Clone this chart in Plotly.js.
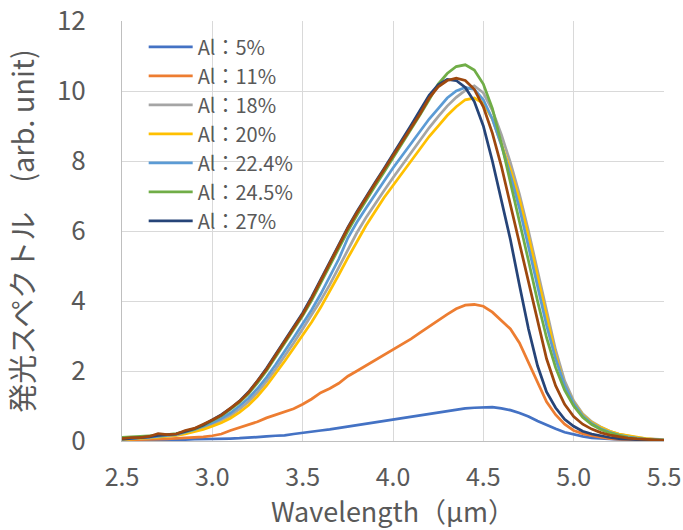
<!DOCTYPE html>
<html>
<head>
<meta charset="utf-8">
<script src="https://cdn.plot.ly/plotly-3.0.1.min.js"></script>
<style>html,body{margin:0;padding:0;background:#fff;}#chart{width:683px;height:530px;}</style>
</head>
<body>
<div id="chart"></div>
<script>
// Wavelength (µm), shared by all series: 2.50 .. 5.50 in 0.05 steps
const wavelength = [2.50,2.55,2.60,2.65,2.70,2.75,2.80,2.85,2.90,2.95,
  3.00,3.05,3.10,3.15,3.20,3.25,3.30,3.35,3.40,3.45,
  3.50,3.55,3.60,3.65,3.70,3.75,3.80,3.85,3.90,3.95,
  4.00,4.05,4.10,4.15,4.20,4.25,4.30,4.35,4.40,4.45,
  4.50,4.55,4.60,4.65,4.70,4.75,4.80,4.85,4.90,4.95,
  5.00,5.05,5.10,5.15,5.20,5.25,5.30,5.35,5.40,5.45,5.50];

const seriesNames = ["Al：5%","Al：11%","Al：18%","Al：20%","Al：22.4%","Al：24.5%","Al：27%",""];
const yTickVals = [0, 2, 4, 6, 8, 10, 12];
const xTickVals = [2.5, 3.0, 3.5, 4.0, 4.5, 5.0, 5.5];

const al05 = [0.02,0.02,0.02,0.02,0.03,0.03,0.04,0.04,0.05,0.05,
  0.06,0.06,0.07,0.08,0.09,0.10,0.13,0.15,0.16,0.20,
  0.24,0.27,0.30,0.33,0.37,0.42,0.45,0.48,0.52,0.57,
  0.60,0.64,0.68,0.74,0.78,0.82,0.86,0.90,0.93,0.95,
  0.97,0.97,0.93,0.88,0.80,0.70,0.57,0.45,0.35,0.25,
  0.18,0.13,0.09,0.07,0.05,0.04,0.03,0.02,0.02,0.01,0.01];

const al11 = [0.03,0.03,0.04,0.04,0.05,0.06,0.07,0.09,0.11,0.12,
  0.15,0.20,0.30,0.38,0.45,0.55,0.66,0.75,0.82,0.92,
  1.05,1.20,1.38,1.50,1.65,1.85,2.00,2.15,2.30,2.45,
  2.60,2.75,2.92,3.10,3.28,3.45,3.62,3.78,3.88,3.90,
  3.85,3.68,3.45,3.20,2.80,2.25,1.65,1.12,0.75,0.48,
  0.30,0.21,0.15,0.10,0.07,0.05,0.04,0.03,0.02,0.02,0.01];

const al18 = [0.05,0.06,0.07,0.09,0.12,0.14,0.17,0.22,0.29,0.38,
  0.47,0.59,0.73,0.91,1.12,1.39,1.70,2.05,2.42,2.80,
  3.20,3.60,4.02,4.47,4.95,5.45,5.95,6.38,6.78,7.15,
  7.52,7.88,8.22,8.60,8.95,9.27,9.57,9.82,10.02,10.15,
  9.95,9.45,8.75,7.95,7.05,6.00,4.85,3.70,2.60,1.72,
  1.15,0.78,0.55,0.40,0.28,0.20,0.14,0.10,0.07,0.05,0.04];

const al20 = [0.04,0.05,0.07,0.09,0.11,0.13,0.16,0.20,0.26,0.33,
  0.42,0.52,0.65,0.82,1.02,1.28,1.58,1.92,2.28,2.65,
  3.02,3.40,3.82,4.27,4.75,5.23,5.70,6.15,6.55,6.95,
  7.30,7.65,8.00,8.35,8.70,9.00,9.30,9.55,9.75,9.80,
  9.65,9.20,8.50,7.75,6.90,5.85,4.70,3.60,2.45,1.60,
  1.10,0.75,0.53,0.39,0.28,0.20,0.15,0.10,0.07,0.05,0.04];

const al224 = [0.05,0.06,0.08,0.10,0.13,0.15,0.18,0.25,0.32,0.42,
  0.52,0.65,0.80,1.00,1.22,1.50,1.82,2.18,2.55,2.95,
  3.35,3.75,4.20,4.68,5.20,5.80,6.25,6.65,7.05,7.42,
  7.80,8.15,8.50,8.85,9.20,9.50,9.80,10.00,10.10,10.05,
  9.75,9.20,8.45,7.60,6.65,5.55,4.40,3.30,2.35,1.60,
  1.08,0.72,0.50,0.35,0.25,0.17,0.12,0.08,0.05,0.04,0.03];

const al245 = [0.10,0.11,0.12,0.14,0.16,0.18,0.21,0.27,0.34,0.44,
  0.57,0.72,0.90,1.10,1.35,1.66,2.01,2.40,2.80,3.18,
  3.58,4.02,4.52,5.02,5.52,6.00,6.45,6.88,7.28,7.68,
  8.08,8.48,8.90,9.32,9.75,10.20,10.50,10.70,10.75,10.60,
  10.20,9.50,8.50,7.40,6.30,5.15,4.00,2.95,2.10,1.45,
  1.00,0.68,0.47,0.33,0.23,0.16,0.10,0.07,0.05,0.03,0.02];

const al27 = [0.05,0.07,0.09,0.12,0.16,0.17,0.20,0.27,0.35,0.46,
  0.60,0.75,0.93,1.14,1.40,1.72,2.08,2.47,2.87,3.26,
  3.66,4.12,4.62,5.12,5.62,6.10,6.55,6.98,7.38,7.78,
  8.18,8.60,9.02,9.45,9.88,10.18,10.33,10.30,10.10,9.70,
  9.00,8.00,6.90,5.75,4.45,3.20,2.15,1.40,0.95,0.62,
  0.42,0.28,0.20,0.14,0.10,0.07,0.05,0.03,0.02,0.01,0.01];

// extra series drawn without a legend entry
const extra = [0.07,0.10,0.10,0.13,0.21,0.18,0.20,0.30,0.36,0.47,
  0.60,0.74,0.93,1.13,1.38,1.70,2.05,2.45,2.85,3.22,
  3.62,4.08,4.58,5.08,5.58,6.08,6.52,6.95,7.35,7.75,
  8.15,8.55,8.95,9.35,9.80,10.12,10.30,10.37,10.30,10.05,
  9.55,8.80,7.85,6.75,5.62,4.50,3.40,2.35,1.58,1.05,
  0.70,0.48,0.34,0.24,0.17,0.12,0.08,0.06,0.04,0.03,0.02];

const seriesValues = [al05, al11, al18, al20, al224, al245, al27, extra];
const seriesColors = ["#4472C4","#ED7D31","#A5A5A5","#FFC000","#5B9BD5","#70AD47","#264478","#9E480E"];

const font = "'Noto Sans CJK JP', 'Noto Sans', sans-serif";
const textColor = "#595959";

const traces = seriesValues.map((vals, i) => ({
  type: "scatter",
  mode: "lines",
  x: wavelength,
  y: vals,
  name: seriesNames[i],
  showlegend: i < 7,
  line: {color: seriesColors[i], width: 2.75}
}));

const layout = {
  width: 683, height: 530,
  paper_bgcolor: "#ffffff", plot_bgcolor: "#ffffff",
  margin: {l: 122, r: 19, t: 21, b: 89, pad: 0},
  font: {family: font, color: textColor, size: 20},
  showlegend: true,
  legend: {
    x: 0.04, y: 0.985, xanchor: "left", yanchor: "top",
    bgcolor: "rgba(255,255,255,0)",
    font: {family: font, size: 20, color: textColor},
    itemwidth: 44
  },
  xaxis: {
    range: [2.5, 5.5], tickmode: "array", tickvals: xTickVals, tickformat: ".1f",
    showgrid: true, gridcolor: "#D9D9D9", gridwidth: 1,
    showline: true, linecolor: "#BFBFBF", linewidth: 1,
    ticks: "", zeroline: false, ticklabelstandoff: 14,
    tickfont: {family: font, size: 25, color: textColor},
    title: {text: "Wavelength（μm）", font: {family: font, size: 27, color: textColor}, standoff: 4}
  },
  yaxis: {
    range: [0, 12.001], tickmode: "array", tickvals: yTickVals,
    showgrid: true, gridcolor: "#D9D9D9", gridwidth: 1,
    showline: true, linecolor: "#BFBFBF", linewidth: 1,
    ticks: "", zeroline: false, ticklabelstandoff: 30,
    tickfont: {family: font, size: 26, color: textColor},
    title: {text: "発光スペクトル　(arb. unit)", font: {family: font, size: 29, color: textColor}, standoff: 17}
  }
};

Plotly.newPlot("chart", traces, layout, {displayModeBar: false, staticPlot: true});
</script>
</body>
</html>
